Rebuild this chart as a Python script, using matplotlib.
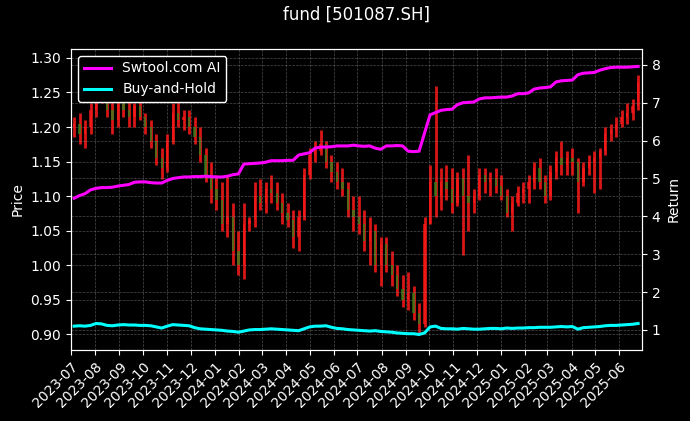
import matplotlib
matplotlib.use('Agg')
import matplotlib.pyplot as plt
import matplotlib.dates as mdates
import numpy as np
import pandas as pd

# ---------------- data (weekly candles) ----------------
week_start = pd.date_range('2023-07-03', periods=104, freq='7D')

opens = [1.200, 1.205, 1.190, 1.200, 1.225, 1.255, 1.245, 1.225, 1.210, 1.235,
         1.225, 1.215, 1.230, 1.215, 1.200, 1.180, 1.155, 1.140, 1.180, 1.220,
         1.210, 1.215, 1.200, 1.185, 1.160, 1.130, 1.110, 1.095, 1.060, 1.070,
         1.020, 1.000, 1.060, 1.065, 1.100, 1.090, 1.110, 1.105, 1.090, 1.075,
         1.065, 1.040, 1.070, 1.130, 1.160, 1.165, 1.175, 1.150, 1.135, 1.120,
         1.110, 1.080, 1.070, 1.060, 1.035, 1.050, 1.000, 1.030, 1.000, 0.985,
         0.965, 0.950, 0.960, 0.930, 0.915, 1.060, 1.120, 1.100, 1.120, 1.110,
         1.090, 1.125, 1.100, 1.090, 1.100, 1.130, 1.120, 1.125, 1.115, 1.100,
         1.075, 1.090, 1.105, 1.110, 1.120, 1.140, 1.120, 1.100, 1.135, 1.155,
         1.145, 1.155, 1.150, 1.120, 1.140, 1.150, 1.155, 1.165, 1.190, 1.195,
         1.205, 1.215, 1.220, 1.230]
highs = [1.215, 1.220, 1.210, 1.235, 1.270, 1.280, 1.255, 1.240, 1.250, 1.250,
         1.240, 1.235, 1.240, 1.220, 1.210, 1.190, 1.170, 1.190, 1.235, 1.240,
         1.225, 1.225, 1.215, 1.200, 1.170, 1.150, 1.130, 1.120, 1.130, 1.090,
         1.050, 1.090, 1.070, 1.120, 1.125, 1.120, 1.130, 1.120, 1.105, 1.090,
         1.080, 1.080, 1.140, 1.170, 1.180, 1.195, 1.180, 1.160, 1.150, 1.140,
         1.120, 1.100, 1.100, 1.080, 1.070, 1.060, 1.040, 1.040, 1.020, 1.000,
         0.985, 0.990, 0.970, 0.945, 1.070, 1.145, 1.260, 1.140, 1.145, 1.140,
         1.135, 1.140, 1.160, 1.110, 1.140, 1.140, 1.135, 1.140, 1.130, 1.110,
         1.100, 1.115, 1.120, 1.130, 1.150, 1.155, 1.130, 1.145, 1.165, 1.180,
         1.165, 1.170, 1.155, 1.150, 1.160, 1.165, 1.170, 1.200, 1.205, 1.215,
         1.225, 1.235, 1.240, 1.275]
lows = [1.185, 1.175, 1.170, 1.190, 1.215, 1.235, 1.215, 1.190, 1.200, 1.215,
        1.200, 1.200, 1.210, 1.190, 1.170, 1.145, 1.125, 1.135, 1.175, 1.200,
        1.195, 1.190, 1.175, 1.150, 1.120, 1.090, 1.080, 1.050, 1.040, 1.000,
        0.985, 0.980, 1.050, 1.055, 1.080, 1.075, 1.090, 1.080, 1.060, 1.055,
        1.025, 1.020, 1.065, 1.125, 1.150, 1.160, 1.140, 1.120, 1.110, 1.100,
        1.070, 1.050, 1.045, 1.020, 1.000, 0.990, 0.970, 0.990, 0.970, 0.955,
        0.940, 0.935, 0.920, 0.900, 0.910, 1.060, 1.070, 1.080, 1.095, 1.075,
        1.085, 1.015, 1.050, 1.075, 1.095, 1.105, 1.100, 1.105, 1.095, 1.070,
        1.050, 1.085, 1.090, 1.090, 1.110, 1.110, 1.090, 1.095, 1.125, 1.130,
        1.130, 1.130, 1.075, 1.115, 1.130, 1.105, 1.110, 1.160, 1.180, 1.185,
        1.200, 1.205, 1.210, 1.225]
closes = [1.205, 1.190, 1.200, 1.225, 1.255, 1.245, 1.225, 1.210, 1.235, 1.225,
          1.215, 1.230, 1.215, 1.200, 1.180, 1.155, 1.140, 1.180, 1.220, 1.210,
          1.215, 1.200, 1.185, 1.160, 1.130, 1.110, 1.095, 1.060, 1.070, 1.020,
          1.000, 1.060, 1.065, 1.100, 1.090, 1.110, 1.105, 1.090, 1.075, 1.065,
          1.040, 1.070, 1.130, 1.160, 1.165, 1.175, 1.150, 1.135, 1.120, 1.110,
          1.080, 1.070, 1.060, 1.035, 1.050, 1.000, 1.030, 1.000, 0.985, 0.965,
          0.950, 0.960, 0.930, 0.915, 1.060, 1.120, 1.100, 1.120, 1.110, 1.090,
          1.125, 1.100, 1.090, 1.100, 1.130, 1.120, 1.125, 1.115, 1.100, 1.075,
          1.090, 1.105, 1.110, 1.120, 1.140, 1.120, 1.100, 1.135, 1.155, 1.145,
          1.155, 1.150, 1.120, 1.140, 1.150, 1.155, 1.165, 1.190, 1.195, 1.205,
          1.215, 1.220, 1.230, 1.265]

ai_return = [4.48, 4.55, 4.60, 4.70, 4.74, 4.76, 4.76, 4.77, 4.80, 4.82,
             4.84, 4.90, 4.91, 4.91, 4.89, 4.88, 4.88, 4.95, 5.00, 5.02,
             5.04, 5.04, 5.05, 5.05, 5.06, 5.05, 5.04, 5.04, 5.06, 5.10,
             5.12, 5.38, 5.39, 5.40, 5.41, 5.43, 5.47, 5.47, 5.47, 5.48,
             5.48, 5.62, 5.65, 5.68, 5.80, 5.83, 5.83, 5.84, 5.86, 5.86,
             5.86, 5.88, 5.86, 5.85, 5.86, 5.80, 5.77, 5.86, 5.86, 5.87,
             5.86, 5.72, 5.71, 5.72, 6.20, 6.68, 6.74, 6.80, 6.82, 6.83,
             6.95, 7.00, 7.01, 7.02, 7.10, 7.13, 7.13, 7.14, 7.15, 7.15,
             7.18, 7.24, 7.24, 7.26, 7.36, 7.39, 7.40, 7.42, 7.55, 7.58,
             7.59, 7.60, 7.74, 7.78, 7.79, 7.80, 7.86, 7.90, 7.93, 7.94,
             7.94, 7.94, 7.95, 7.96]
bh_return = [1.10, 1.11, 1.10, 1.12, 1.17, 1.16, 1.12, 1.11, 1.13, 1.14,
             1.13, 1.13, 1.12, 1.12, 1.11, 1.08, 1.05, 1.10, 1.14, 1.13,
             1.12, 1.11, 1.06, 1.03, 1.02, 1.01, 1.00, 0.99, 0.97, 0.96,
             0.94, 0.97, 1.00, 1.01, 1.01, 1.02, 1.03, 1.02, 1.01, 1.00,
             0.99, 0.98, 1.03, 1.08, 1.10, 1.10, 1.11, 1.07, 1.04, 1.03,
             1.01, 1.00, 0.99, 0.98, 0.97, 0.98, 0.96, 0.95, 0.94, 0.92,
             0.91, 0.90, 0.90, 0.88, 0.92, 1.08, 1.10, 1.04, 1.03, 1.03,
             1.02, 1.04, 1.03, 1.02, 1.02, 1.03, 1.04, 1.04, 1.03, 1.05,
             1.04, 1.05, 1.05, 1.06, 1.06, 1.07, 1.07, 1.07, 1.08, 1.09,
             1.08, 1.09, 1.02, 1.06, 1.07, 1.08, 1.09, 1.11, 1.12, 1.12,
             1.13, 1.14, 1.15, 1.17]

title = "fund [501087.SH]"

# ---------------- plot ----------------
plt.style.use('dark_background')
fig = plt.figure(figsize=(6.9, 4.21), dpi=100)
ax = fig.add_axes([71/690, 1-350/421, (642-71)/690, (350-49)/421])
ax2 = ax.twinx()

x = mdates.date2num(week_start) + 2
o = np.array(opens); h = np.array(highs); l = np.array(lows); c = np.array(closes)
up = c >= o
cols = np.where(up, '#ff1a1a', '#2a8a1a')
# wicks (full range) drawn in red, bodies coloured by direction
ax.vlines(x, l, h, colors='#ff1a1a', linewidth=2.0, alpha=0.85, zorder=2)
body_bottom = np.minimum(o, c)
body_h = np.maximum(np.abs(c - o), 0.003)
ax.bar(x, body_h, bottom=body_bottom, width=3.0, color=cols, alpha=0.7,
       linewidth=0, zorder=3)

ax2.plot(x, ai_return, color='#ff00ff', linewidth=2.2, label='Swtool.com AI')
ax2.plot(x, bh_return, color='#00ffff', linewidth=2.2, label='Buy-and-Hold')

ax.set_xlim(mdates.datestr2num('2023-07-01'), mdates.datestr2num('2025-06-30'))
ax.set_ylim(0.877, 1.313)
ax2.set_ylim(0.47, 8.42)
ax.set_yticks(np.arange(0.90, 1.301, 0.05))
ax2.set_yticks(np.arange(1, 9, 1))

ax.xaxis.set_major_locator(mdates.MonthLocator())
ax.xaxis.set_major_formatter(mdates.DateFormatter('%Y-%m'))
for lab in ax.get_xticklabels():
    lab.set_rotation(45)
    lab.set_ha('right')
    lab.set_rotation_mode('anchor')

ax.grid(True, color='grey', linestyle='--', linewidth=0.5, alpha=0.6)
ax2.grid(True, color='grey', linestyle='--', linewidth=0.5, alpha=0.6)

ax.set_ylabel('Price', fontsize=10)
ax2.set_ylabel('Return', fontsize=10)

leg = ax2.legend(loc='upper left', fontsize=10, facecolor='black',
                 edgecolor='white', framealpha=1.0)

fig.text((71+642)/2/690, 1-15/421, title, ha='center', va='center', fontsize=12)

fig.savefig('out.png', dpi=100, facecolor='black')
